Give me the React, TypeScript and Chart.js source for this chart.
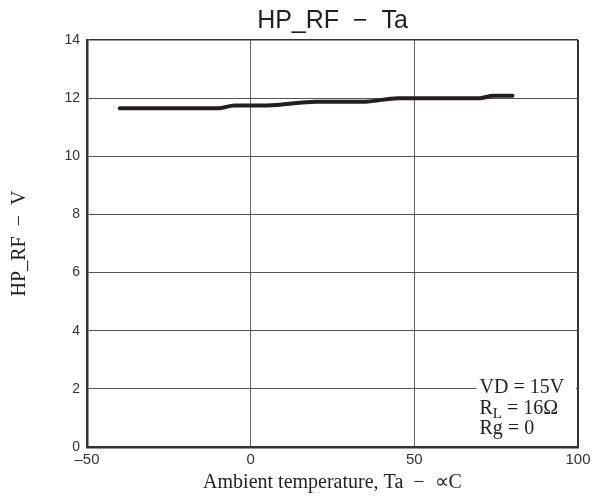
import React, { useEffect, useRef } from "react";
import { Chart, registerables } from "chart.js";

Chart.register(...registerables);

const temps = [-40, -10, -5, 5, 20, 35, 45, 70, 74, 80];
const hpRf = [11.65, 11.65, 11.75, 11.75, 11.88, 11.88, 12.0, 12.0, 12.08, 12.08];
const xTicks = [-50, 0, 50, 100];
const yTicks = [0, 2, 4, 6, 8, 10, 12, 14];
const titleText = "HP_RF  \u2212  Ta";
const xTitle = "Ambient temperature, Ta  \u2212  \u221DC";
const yTitle = "HP_RF  \u2212  V";
const noteLines = ["VD = 15V", "R|L| = 16\u03A9", "Rg = 0"];

const SERIF = "'Liberation Serif', 'Times New Roman', serif";

const textPlugin = {
  id: "texts",
  afterDatasetsDraw(chart: any) {
    const ctx = chart.ctx;
    const ca = chart.chartArea;
    const xs = chart.scales.x;
    const ys = chart.scales.y;
    ctx.save();
    // annotation box
    const bx = xs.getPixelForValue(69);
    const by = ys.getPixelForValue(2.45);
    ctx.fillStyle = "#ffffff";
    ctx.fillRect(bx, by, ca.right - 2 - bx, ca.bottom - 2 - by);
    ctx.fillStyle = "#231f20";
    ctx.font = `20px ${SERIF}`;
    ctx.textBaseline = "alphabetic";
    ctx.textAlign = "left";
    const tx = bx + 3;
    let ty = by + 17;
    ctx.fillText(noteLines[0], tx, ty);
    ty += 21;
    const parts = noteLines[1].split("|");
    ctx.fillText(parts[0], tx, ty);
    const w = ctx.measureText(parts[0]).width;
    ctx.font = `15px ${SERIF}`;
    ctx.fillText(parts[1], tx + w, ty + 4);
    const w2 = ctx.measureText(parts[1]).width;
    ctx.font = `20px ${SERIF}`;
    ctx.fillText(parts[2], tx + w + w2, ty);
    ty += 20;
    ctx.fillText(noteLines[2], tx, ty);

    // title
    const cx = (ca.left + ca.right) / 2;
    ctx.font = "25px 'Liberation Sans', Arial, sans-serif";
    ctx.textAlign = "center";
    ctx.fillText(titleText, cx, 28);
    // x title
    ctx.font = `20px ${SERIF}`;
    ctx.fillText(xTitle, cx, 488);
    // y title
    ctx.save();
    ctx.translate(25, (ca.top + ca.bottom) / 2);
    ctx.rotate(-Math.PI / 2);
    ctx.fillText(yTitle, 0, 0);
    ctx.restore();
    ctx.restore();
  },
};

export default function App() {
  const ref = useRef<HTMLCanvasElement | null>(null);
  useEffect(() => {
    document.body.style.margin = "0";
    const canvas = ref.current;
    if (!canvas) return;
    const chart = new Chart(canvas, {
      type: "line",
      data: {
        datasets: [
          {
            data: temps.map((t, i) => ({ x: t, y: hpRf[i] })),
            borderColor: "#231f20",
            borderWidth: 4,
            pointRadius: 0,
            cubicInterpolationMode: "monotone",
            borderCapStyle: "round",
            fill: false,
          },
        ],
      },
      options: {
        responsive: false,
        animation: false,
        events: [],
        layout: { padding: { top: 40, right: 23, left: 0, bottom: 0 } },
        plugins: { legend: { display: false }, tooltip: { enabled: false }, title: { display: false } },
        scales: {
          x: {
            type: "linear",
            min: -50,
            max: 100,
            afterBuildTicks: (s: any) => {
              s.ticks = xTicks.map((v) => ({ value: v }));
            },
            afterFit: (s: any) => {
              s.height = 49;
            },
            ticks: {
              padding: 4,
              color: "#333",
              font: { family: "'Liberation Sans', Arial, sans-serif", size: 15 },
              callback: (v: any) => String(v).replace("-", "\u2013"),
            },
            grid: {
              drawTicks: false,
              color: (c: any) => (c.tick && c.tick.value === 100 ? "#333" : "#666"),
              lineWidth: (c: any) => (c.tick && c.tick.value === 100 ? 2 : 1),
            },
            border: { color: "#333", width: 2.5 },
          },
          y: {
            type: "linear",
            min: 0,
            max: 14,
            afterBuildTicks: (s: any) => {
              s.ticks = yTicks.map((v) => ({ value: v }));
            },
            afterFit: (s: any) => {
              s.width = 87;
            },
            ticks: {
              padding: 7,
              color: "#333",
              font: { family: "'Liberation Sans', Arial, sans-serif", size: 14 },
            },
            grid: {
              drawTicks: false,
              color: (c: any) => (c.tick && c.tick.value === 14 ? "#333" : "#555"),
              lineWidth: (c: any) => (c.tick && c.tick.value === 14 ? 1.5 : 1),
            },
            border: { color: "#333", width: 2.5 },
          },
        },
      },
      plugins: [textPlugin],
    } as any);
    return () => chart.destroy();
  }, []);
  return (
    <div style={{ width: 601, height: 496, background: "#fff" }}>
      <canvas ref={ref} width={601} height={496} />
    </div>
  );
}
